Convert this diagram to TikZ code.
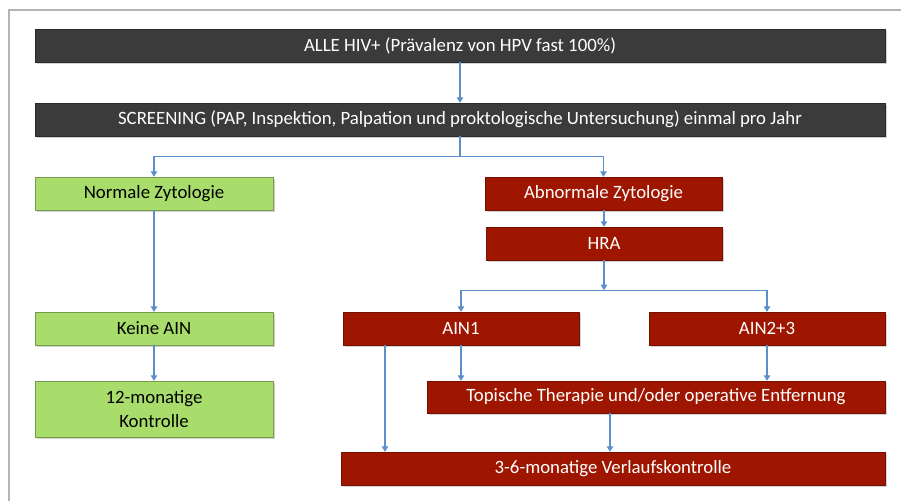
\documentclass[tikz,border=0pt]{standalone}
\usepackage{fontspec}
\setmainfont{Carlito}
\usepackage{tikz}
\usetikzlibrary{positioning}
\usetikzlibrary{arrows.meta, shadows}

\definecolor{boxdark}{HTML}{3B3B3B}
\definecolor{boxred}{HTML}{9E1600}
\definecolor{boxgreen}{HTML}{A8DD6B}
\definecolor{arrowblue}{HTML}{5B8FCB}
\definecolor{framegray}{HTML}{B4B4B4}

\begin{document}
\begin{tikzpicture}[x=1pt, y=-1pt,
        every node/.style={font=\fontsize{18.8}{24}\selectfont},
        box/.style={rectangle, minimum height=33pt, inner sep=0pt, align=center,
            drop shadow={shadow xshift=1.5pt, shadow yshift=-1.8pt, opacity=0.35}},
        darkbox/.style={box, fill=boxdark, draw=boxdark!70!black, text=white, minimum width=850pt},
        redbox/.style={box, fill=boxred, draw=boxred!75!black, text=white, minimum width=236pt},
        greenbox/.style={box, fill=boxgreen, draw=boxgreen!70!black, text=black, minimum width=238pt},
        arr/.style={draw=arrowblue, line width=1.1pt, -{Triangle[width=6.5pt,length=5.5pt]}}]
        \useasboundingbox (0,0) rectangle (901,501);
        \fill[white] (0,0) rectangle (901,501);

        % frame
        \draw[framegray, line width=1.5pt] (9,501) -- (9,10) -- (901,10);

        % top rows
        \node[darkbox] (alle) at (460,45.5) {ALLE HIV+ (Prävalenz von HPV fast 100\%)};
        \node[darkbox] (screening) at (460,119.5)
            {SCREENING (PAP, Inspektion, Palpation und proktologische Untersuchung) einmal pro Jahr};

        % normal branch
        \node[greenbox] (normal) at (154,193.5) {Normale Zytologie};
        \node[greenbox] (keine) at (154,328.5) {Keine AIN};
        \node[greenbox, minimum height=56pt] (kontrolle) at (154,409) {12-monatige\\Kontrolle};

        % abnormal branch
        \node[redbox, minimum width=237pt] (abnormal) at (603.5,193.5) {Abnormale Zytologie};
        \node[redbox] (hra) at (604,243.5) {HRA};
        \node[redbox] (ain1) at (461,328.5) {AIN1};
        \node[redbox] (ain23) at (767,328.5) {AIN2+3};
        \node[redbox, minimum width=458pt, minimum height=32pt] (therapie) at (656,397)
            {Topische Therapie und/oder operative Entfernung};
        \node[redbox, minimum width=544pt] (verlauf) at (613,468.5)
            {3-6-monatige Verlaufskontrolle};

        % connectors
        \draw[arr] (alle.south) -- (screening.north);
        \draw[arrowblue, line width=1.1pt] (screening.south) -- ++(0,20) coordinate (split);
        \draw[arr] (split) -| (normal.north);
        \draw[arr] (split) -| (abnormal.north);
        \draw[arr] (normal.south) -- (keine.north);
        \draw[arr] (keine.south) -- (kontrolle.north);
        \draw[arr] (abnormal.south -| hra.north) -- (hra.north);
        \draw[arr] (hra.south) -- ++(0,30) coordinate (hrasplit);
        \draw[arr] (hrasplit) -| (ain1.north);
        \draw[arr] (hrasplit) -| (ain23.north);
        \draw[arr] (ain1.south) -- (ain1.south |- therapie.north);
        \draw[arr] (ain23.south) -- (ain23.south |- therapie.north);
        \draw[arr] ([xshift=-76]ain1.south) -- ([xshift=-76]ain1.south |- verlauf.north);
        \draw[arr] ([xshift=-46]therapie.south) -- ([xshift=-46]therapie.south |- verlauf.north);
    \end{tikzpicture}
\end{document}
